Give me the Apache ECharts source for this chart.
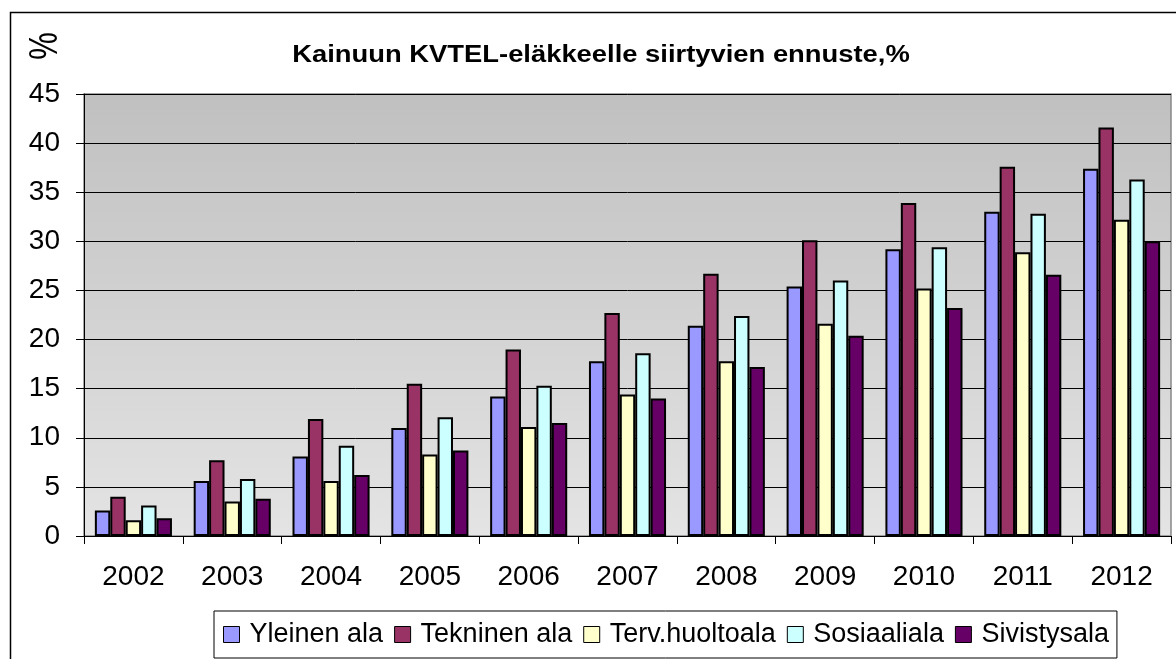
<!DOCTYPE html>
<html><head><meta charset="utf-8">
<script src="https://cdn.jsdelivr.net/npm/echarts@6/dist/echarts.min.js"></script>
<style>html,body{margin:0;padding:0;background:#fff}#c{width:1176px;height:659px}</style>
</head><body><div id="c"></div>
<script>
const categories = ['2002','2003','2004','2005','2006','2007','2008','2009','2010','2011','2012'];
const seriesNames = ['Yleinen ala','Tekninen ala','Terv.huoltoala','Sosiaaliala','Sivistysala'];
const yleinen   = [2.6, 5.6, 8.1, 11.0, 14.2, 17.8, 21.4, 25.4, 29.2, 33.0, 37.4];
const tekninen  = [4.0, 7.7, 11.9, 15.5, 19.0, 22.7, 26.7, 30.1, 33.9, 37.6, 41.6];
const terv      = [1.6, 3.5, 5.6, 8.3, 11.1, 14.4, 17.8, 21.6, 25.2, 28.9, 32.2];
const sosiaali  = [3.1, 5.8, 9.2, 12.1, 15.3, 18.6, 22.4, 26.0, 29.4, 32.8, 36.3];
const sivistys  = [1.8, 3.8, 6.2, 8.7, 11.5, 14.0, 17.2, 20.4, 23.2, 26.6, 30.0];
const colors = ['#9999FF','#993366','#FFFFCC','#CCFFFF','#660066'];
const values = [yleinen, tekninen, terv, sosiaali, sivistys];
const titleText = 'Kainuun KVTEL-eläkkeelle siirtyvien ennuste,%';
const yAxisTitle = '%';

const chart = echarts.init(document.getElementById('c'), null, {renderer:'canvas'});
const font = 'Liberation Sans, Arial, sans-serif';
chart.setOption({
  animation:false,
  backgroundColor:'#fff',
  textStyle:{fontFamily:font},
  graphic:[
    {type:'rect', shape:{x:10.5,y:12.5,width:1180,height:660}, style:{fill:'none', stroke:'#000', lineWidth:1.5}, z:-1},
    {type:'text', x:601, y:56, scaleX:1.19,
      style:{text:titleText, font:'bold 23px Liberation Sans, Arial, sans-serif', fill:'#000', textAlign:'center', textVerticalAlign:'middle'}},
    {type:'text', x:46, y:46, rotation:Math.PI/2, scaleY:1.3,
      style:{text:yAxisTitle, font:'31px Liberation Sans, Arial, sans-serif', fill:'#000', textAlign:'center', textVerticalAlign:'middle'}}
  ],
  grid:{left:84, right:5, top:94, bottom:123, show:true,
    backgroundColor:new echarts.graphic.LinearGradient(0,0,0,1,[{offset:0,color:'#C0C0C0'},{offset:1,color:'#E4E4E4'}]),
    borderColor:'#888', borderWidth:1.5},
  legend:{
    data:seriesNames, left:214, top:611,
    itemWidth:16, itemHeight:16, itemGap:11, icon:'rect',
    padding:[10,8,10,9], borderColor:'#000', borderWidth:1,
    textStyle:{fontSize:27, color:'#000', fontFamily:font, padding:[0,0,0,5]},
    itemStyle:{borderColor:'#000', borderWidth:1}
  },
  xAxis:{
    type:'category', data:categories,
    axisLine:{lineStyle:{color:'#000', width:1}},
    axisTick:{show:true, length:8, lineStyle:{color:'#000'}},
    axisLabel:{fontSize:28, color:'#000', margin:27, fontFamily:font}
  },
  yAxis:{
    type:'value', min:0, max:45, interval:5,
    axisLine:{show:true, lineStyle:{color:'#000'}},
    axisTick:{show:true, length:8, lineStyle:{color:'#000'}},
    axisLabel:{fontSize:28, color:'#000', margin:24, fontFamily:font},
    splitLine:{lineStyle:{color:'#000', width:1}}
  },
  series: seriesNames.map((n,i)=>({
    name:n, type:'bar', data:values[i],
    barGap:'0%', barCategoryGap:'22%',
    itemStyle:{color:colors[i], borderColor:'#000', borderWidth:2}
  }))
});
</script></body></html>
